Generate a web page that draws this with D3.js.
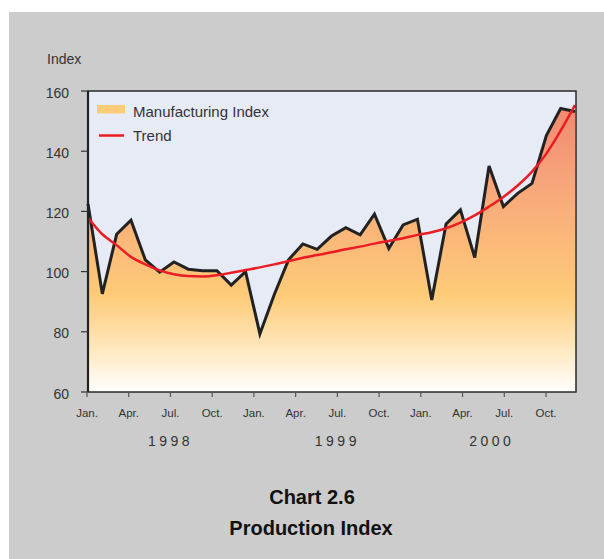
<!DOCTYPE html>
<html>
<head>
<meta charset="utf-8">
<script src="https://cdn.jsdelivr.net/npm/d3@7"></script>
<style>
  body { margin: 0; background: #fff; }
  svg { display: block; font-family: "Liberation Sans", Arial, sans-serif; }
</style>
</head>
<body>
<div id="chart"></div>
<script>
// monthly values, Jan 1998 - Nov 2000
var manufacturing = [
  122.5, 92.6, 112.4, 117.1, 103.9, 99.8, 103.2, 100.8, 100.3, 100.3, 95.5, 100.0,
  79.3, 92.3, 103.9, 109.2, 107.4, 111.8, 114.6, 112.2, 119.1, 107.7, 115.5, 117.4,
  90.6, 115.8, 120.5, 104.7, 135.1, 121.6, 126.0, 129.3, 145.2, 154.2, 153.2
];
var trend = [
  117.9, 112.4, 108.8, 104.9, 102.4, 100.4, 99.1, 98.5, 98.4, 98.8, 99.6, 100.5,
  101.4, 102.4, 103.5, 104.6, 105.5, 106.4, 107.4, 108.3, 109.3, 110.2, 111.1, 112.2,
  113.1, 114.4, 116.3, 118.7, 121.6, 124.8, 128.6, 133.2, 139.2, 146.8, 155.3
];
var tickLabels = ["Jan.", "Apr.", "Jul.", "Oct.", "Jan.", "Apr.", "Jul.", "Oct.", "Jan.", "Apr.", "Jul.", "Oct."];
var tickMonths = [0, 3, 6, 9, 12, 15, 18, 21, 24, 27, 30, 33];
var years = ["1998", "1999", "2000"];
var yearMonths = [6, 18, 29.1];
var yTicks = [60, 80, 100, 120, 140, 160];

var W = 604, H = 559;
var pLeft = 88, pRight = 576, pTop = 91, pBottom = 392;

var svg = d3.select("#chart").append("svg")
  .attr("width", W).attr("height", H);

// grey panel
svg.append("rect").attr("x", 9).attr("y", 12)
  .attr("width", W - 9).attr("height", H - 12).attr("fill", "#cccccc");

var y = d3.scaleLinear().domain([60, 160]).range([pBottom, pTop]);
var x = d3.scaleLinear().domain([0, manufacturing.length - 1]).range([pLeft, pRight - 1]);
var xAxisScale = d3.scaleLinear().domain([0, 33]).range([87, 546]);

// plot background
svg.append("rect").attr("x", pLeft).attr("y", pTop)
  .attr("width", pRight - pLeft).attr("height", pBottom - pTop).attr("fill", "#e7ebf6");

var defs = svg.append("defs");
var grad = defs.append("linearGradient").attr("id", "fillGrad")
  .attr("gradientUnits", "userSpaceOnUse")
  .attr("x1", 0).attr("y1", pTop).attr("x2", 0).attr("y2", pBottom);
[[0, "#f0826f"], [0.3, "#f7a57a"], [0.68, "#fecb78"], [0.88, "#feecc8"], [1, "#ffffff"]]
  .forEach(function(s){ grad.append("stop").attr("offset", s[0]).attr("stop-color", s[1]); });

var area = d3.area()
  .x(function(d, i){ return x(i); })
  .y0(y(60))
  .y1(function(d){ return y(d); });

svg.append("path").datum(manufacturing)
  .attr("d", area).attr("fill", "url(#fillGrad)");

var line = d3.line()
  .x(function(d, i){ return x(i); })
  .y(function(d){ return y(d); });

svg.append("path").datum(manufacturing)
  .attr("d", line).attr("fill", "none")
  .attr("stroke", "#222").attr("stroke-width", 3)
  .attr("stroke-linejoin", "miter");

var trendLine = d3.line()
  .curve(d3.curveMonotoneX)
  .x(function(d, i){ return x(i); })
  .y(function(d){ return y(d); });

svg.append("path").datum(trend)
  .attr("d", trendLine).attr("fill", "none")
  .attr("stroke", "#ec1c24").attr("stroke-width", 2.5);

// frame
svg.append("rect").attr("x", pLeft).attr("y", pTop)
  .attr("width", pRight - pLeft).attr("height", pBottom - pTop)
  .attr("fill", "none").attr("stroke", "#2a2a2a").attr("stroke-width", 1.5);
svg.append("line").attr("x1", pLeft).attr("x2", pLeft).attr("y1", pTop).attr("y2", pBottom)
  .attr("stroke", "#222").attr("stroke-width", 2.2);

// y axis
var yAxis = svg.append("g");
yAxis.selectAll("line").data(yTicks).enter().append("line")
  .attr("x1", 81).attr("x2", pLeft).attr("y1", function(d){ return y(d); })
  .attr("y2", function(d){ return y(d); })
  .attr("stroke", "#333").attr("stroke-width", 1.2);
yAxis.selectAll("text").data(yTicks).enter().append("text")
  .attr("x", 69).attr("y", function(d){ return y(d) + 6.5; })
  .attr("text-anchor", "end").attr("font-size", 14).attr("fill", "#333")
  .text(function(d){ return d; });
svg.append("text").attr("x", 47).attr("y", 64).attr("font-size", 14)
  .attr("fill", "#333").text("Index");

// x axis
var xAxis = svg.append("g");
xAxis.selectAll("line").data(tickMonths).enter().append("line")
  .attr("x1", function(d){ return xAxisScale(d); }).attr("x2", function(d){ return xAxisScale(d); })
  .attr("y1", pBottom).attr("y2", pBottom + 5)
  .attr("stroke", "#555").attr("stroke-width", 1.2);
xAxis.selectAll("text").data(tickMonths).enter().append("text")
  .attr("x", function(d){ return xAxisScale(d); }).attr("y", 417)
  .attr("text-anchor", "middle").attr("font-size", 11.5).attr("fill", "#333")
  .text(function(d, i){ return tickLabels[i]; });
svg.append("g").selectAll("text").data(years).enter().append("text")
  .attr("x", function(d, i){ return xAxisScale(yearMonths[i]); }).attr("y", 446)
  .attr("text-anchor", "middle").attr("font-size", 14).attr("letter-spacing", 3.5)
  .attr("fill", "#333")
  .text(function(d){ return d; });

// legend
svg.append("rect").attr("x", 97).attr("y", 105).attr("width", 28).attr("height", 8.5)
  .attr("fill", "#fecd7a");
svg.append("text").attr("x", 133).attr("y", 117).attr("font-size", 15)
  .attr("fill", "#333").text("Manufacturing Index");
svg.append("line").attr("x1", 99).attr("x2", 124).attr("y1", 135.5).attr("y2", 135.5)
  .attr("stroke", "#ec1c24").attr("stroke-width", 2.5);
svg.append("text").attr("x", 133).attr("y", 141).attr("font-size", 15)
  .attr("fill", "#333").text("Trend");

// title
svg.append("text").attr("x", 312).attr("y", 504).attr("text-anchor", "middle")
  .attr("font-size", 20).attr("font-weight", "bold").attr("fill", "#111").text("Chart 2.6");
svg.append("text").attr("x", 311).attr("y", 535).attr("text-anchor", "middle")
  .attr("font-size", 20).attr("font-weight", "bold").attr("fill", "#111").text("Production Index");
</script>
</body>
</html>
